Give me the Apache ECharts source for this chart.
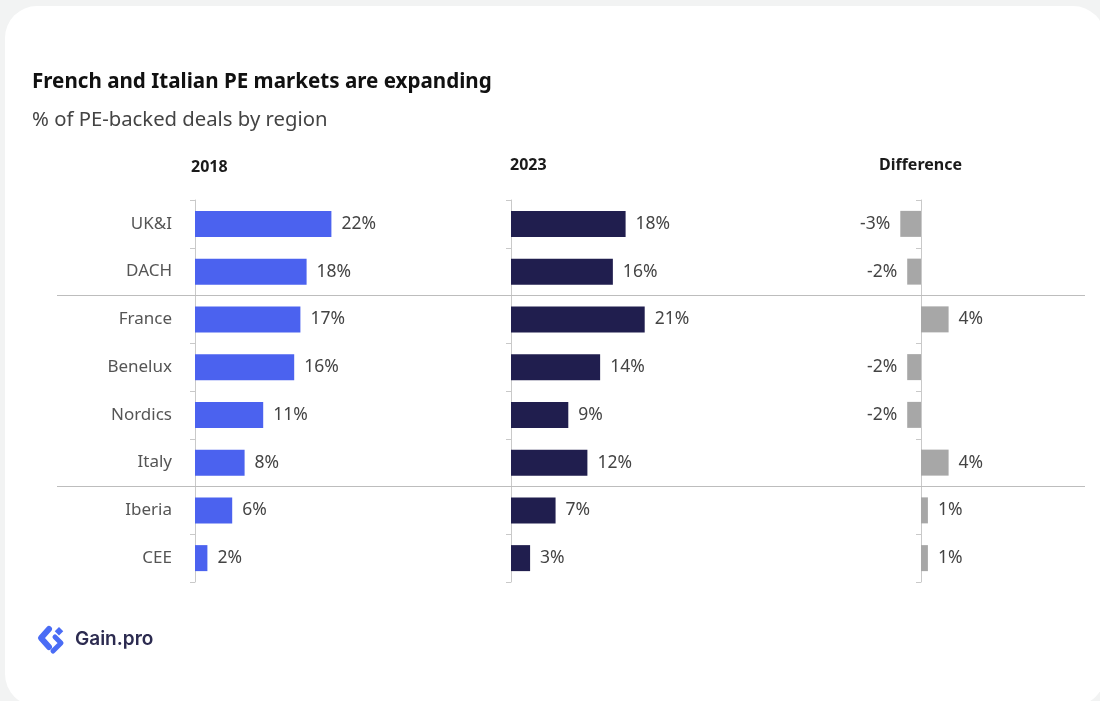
<!DOCTYPE html>
<html>
<head>
<meta charset="utf-8">
<title>French and Italian PE markets are expanding</title>
<script src="https://cdn.jsdelivr.net/npm/echarts@6/dist/echarts.min.js"></script>
<style>
  html, body { margin: 0; padding: 0; background: #f2f3f3; }
  #chart { width: 1100px; height: 701px; }
</style>
</head>
<body>
<div id="chart"></div>
<script>
// Regions, top to bottom
const regions = ['UK&I', 'DACH', 'France', 'Benelux', 'Nordics', 'Italy', 'Iberia', 'CEE'];
// % of PE-backed deals by region
const share2018 = [22, 18, 17, 16, 11, 8, 6, 2];
const share2023 = [18, 16, 21, 14, 9, 12, 7, 3];
// Change in percentage points, 2018 -> 2023
const difference = [-3, -2, 4, -2, -2, 4, 1, 1];
const columnHeaders = ['2018', '2023', 'Difference'];
// Region groups are split after these row counts
const groupBreaks = [2, 6];

const FONT = '"Noto Sans", sans-serif';
const AXIS_GREY = '#c9c9c9';
const PLOT_TOP = 200;
const PLOT_HEIGHT = 382;

const chart = echarts.init(document.getElementById('chart'), null, { renderer: 'canvas' });

function valueLabel(pos) {
  return {
    show: true,
    position: pos,
    distance: 10,
    formatter: '{c}%',
    fontFamily: FONT,
    fontSize: 17.5,
    color: '#444'
  };
}

function categoryAxis(gridIndex, showLabels) {
  return {
    type: 'category',
    gridIndex: gridIndex,
    data: regions,
    inverse: true,
    axisLine: { show: true, onZero: true, lineStyle: { color: AXIS_GREY, width: 1 } },
    axisTick: { show: true, length: 5, lineStyle: { color: AXIS_GREY } },
    axisLabel: {
      show: showLabels,
      margin: 23,
      fontFamily: FONT,
      fontSize: 17,
      color: '#555'
    },
    splitLine: { show: false }
  };
}

function valueAxis(gridIndex, min, max) {
  return {
    type: 'value',
    gridIndex: gridIndex,
    min: min,
    max: max,
    show: false,
    splitLine: { show: false }
  };
}

const headerLefts = [191, 510, 879];
const headerTops = [159, 157, 157];

const option = {
  backgroundColor: '#f2f3f3',
  animation: false,
  title: [
    {
      text: 'French and Italian PE markets are expanding',
      left: 32, top: 72, padding: 0,
      textStyle: { fontFamily: FONT, fontSize: 20.6, fontWeight: 'bold', color: '#111' }
    },
    {
      text: '% of PE-backed deals by region',
      left: 32, top: 110, padding: 0,
      textStyle: { fontFamily: FONT, fontSize: 20.3, fontWeight: 'normal', color: '#444' }
    }
  ].concat(columnHeaders.map((h, i) => ({
    text: h,
    left: headerLefts[i], top: headerTops[i], padding: 0,
    textStyle: { fontFamily: FONT, fontSize: 16, fontWeight: 'bold', color: '#1a1a1a' }
  }))),
  grid: [
    { left: 195, top: PLOT_TOP, width: 186, height: PLOT_HEIGHT },
    { left: 511, top: PLOT_TOP, width: 191, height: PLOT_HEIGHT },
    { left: 852, top: PLOT_TOP, width: 138, height: PLOT_HEIGHT },
    { left: 57, top: PLOT_TOP, width: 1028, height: PLOT_HEIGHT }
  ],
  xAxis: [
    valueAxis(0, 0, 30),
    valueAxis(1, 0, 30),
    valueAxis(2, -10, 10),
    valueAxis(3, 0, 1)
  ],
  yAxis: [
    categoryAxis(0, true),
    categoryAxis(1, false),
    categoryAxis(2, false),
    { type: 'value', gridIndex: 3, min: 0, max: regions.length, inverse: true, show: false }
  ],
  series: [
    {
      name: '2018', type: 'bar', xAxisIndex: 0, yAxisIndex: 0,
      data: share2018, barWidth: 26,
      itemStyle: { color: '#4b62ef' },
      label: valueLabel('right')
    },
    {
      name: '2023', type: 'bar', xAxisIndex: 1, yAxisIndex: 1,
      data: share2023, barWidth: 26,
      itemStyle: { color: '#201e4e' },
      label: valueLabel('right')
    },
    {
      name: 'Difference', type: 'bar', xAxisIndex: 2, yAxisIndex: 2,
      data: difference.map(v => ({ value: v, label: { position: v < 0 ? 'left' : 'right' } })),
      barWidth: 26,
      itemStyle: { color: '#a7a7a7' },
      label: valueLabel('right')
    },
    {
      // group separators across all three panels
      name: 'groups', type: 'scatter', xAxisIndex: 3, yAxisIndex: 3,
      data: [[0, 0]], symbolSize: 0, silent: true,
      markLine: {
        silent: true,
        symbol: 'none',
        label: { show: false },
        lineStyle: { color: '#bdbdbd', width: 1, type: 'solid' },
        data: groupBreaks.map(b => ({ yAxis: b }))
      }
    }
  ],
  graphic: [
    {
      // white card
      type: 'rect', z: -10, silent: true,
      shape: { x: 5, y: 6, width: 1100, height: 700, r: 32 },
      style: { fill: '#ffffff' }
    },
    {
      type: 'group', left: 38, top: 626,
      children: [
        { type: 'polyline', shape: { points: [[12, 3], [4, 12], [12, 21]] },
          style: { stroke: '#4a6cf5', lineWidth: 6, lineJoin: 'round', lineCap: 'round', fill: null } },
        { type: 'rect', shape: { x: 0, y: 0, width: 6, height: 6 }, x: 22, y: 1, rotation: -Math.PI / 4,
          style: { fill: '#4a6cf5' } },
        { type: 'polyline', shape: { points: [[18, 11], [24, 17], [16, 25]] },
          style: { stroke: '#4a6cf5', lineWidth: 5, lineJoin: 'round', lineCap: 'round', fill: null } }
      ]
    },
    {
      type: 'text', left: 75, top: 630,
      style: { text: 'Gain.pro', fontFamily: 'Inter, sans-serif', fontSize: 19, fontWeight: 600, fill: '#2c2b50' }
    }
  ]
};

chart.setOption(option);
</script>
</body>
</html>
